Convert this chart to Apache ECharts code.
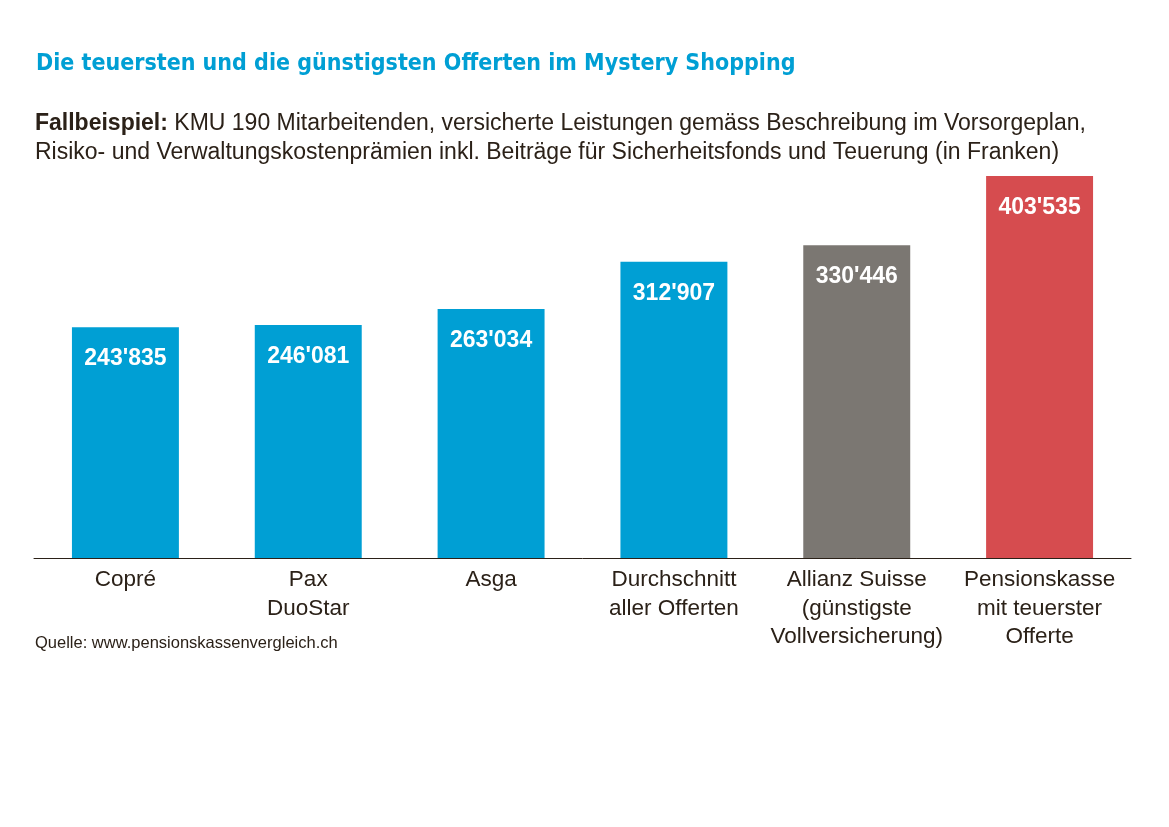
<!DOCTYPE html>
<html lang="de" style="height: 100%">
<head>
  <meta charset="utf-8">
</head>
<body style="height: 100%; margin: 0; background: #fff">
  <div id="container" style="height: 100%"></div>
  <script type="text/javascript" src="https://fastly.jsdelivr.net/npm/echarts@6.0.0/dist/echarts.min.js"></script>
  <script type="text/javascript">
    // Daten
    var categories = ['Copré', 'Pax\nDuoStar', 'Asga', 'Durchschnitt\naller Offerten', 'Allianz Suisse\n(günstigste\nVollversicherung)', 'Pensionskasse\nmit teuerster\nOfferte'];
    var values = [243835, 246081, 263034, 312907, 330446, 403535];
    var barColors = ['#009fd4', '#009fd4', '#009fd4', '#009fd4', '#7b7772', '#d64c4f'];

    var dark = '#2b2118';
    var sans = '"Liberation Sans", Arial, sans-serif';

    function fmt(v) {
      return String(v).replace(/\B(?=(\d{3})+(?!\d))/g, "'");
    }

    var dom = document.getElementById('container');
    var myChart = echarts.init(dom, null, { renderer: 'canvas' });

    var option = {
      backgroundColor: '#fff',
      animation: false,
      title: [
        {
          text: 'Die teuersten und die günstigsten Offerten im Mystery Shopping',
          left: 31,
          top: 48,
          textStyle: {
            fontFamily: '"Liberation Sans Narrow", "DejaVu Sans Condensed", Roboto, sans-serif',
            fontWeight: 'bold',
            fontSize: 23,
            color: '#009fd4'
          }
        },
        {
          text: '{b|Fallbeispiel:} KMU 190 Mitarbeitenden, versicherte Leistungen gemäss Beschreibung im Vorsorgeplan,\nRisiko- und Verwaltungskostenprämien inkl. Beiträge für Sicherheitsfonds und Teuerung (in Franken)',
          left: 30,
          top: 104,
          textStyle: {
            fontFamily: sans,
            fontWeight: 'normal',
            fontSize: 23,
            lineHeight: 29,
            color: dark,
            rich: {
              b: {
                fontFamily: sans,
                fontWeight: 'bold',
                fontSize: 23,
                lineHeight: 29,
                color: dark
              }
            }
          }
        },
        {
          text: 'Quelle: www.pensionskassenvergleich.ch',
          left: 30,
          top: 630,
          textStyle: {
            fontFamily: sans,
            fontWeight: 'normal',
            fontSize: 16.5,
            color: dark
          }
        }
      ],
      grid: {
        left: 34,
        right: 38,
        top: 176,
        bottom: 269
      },
      xAxis: {
        type: 'category',
        data: categories,
        axisLine: { show: true, lineStyle: { color: dark, width: 1 } },
        axisTick: { show: false },
        axisLabel: {
          interval: 0,
          margin: 8,
          fontFamily: sans,
          fontSize: 22.5,
          lineHeight: 28.5,
          color: dark
        }
      },
      yAxis: {
        type: 'value',
        min: 0,
        max: 403535,
        show: false,
        splitLine: { show: false }
      },
      series: [
        {
          type: 'bar',
          barWidth: '58.5%',
          data: values.map(function (v, i) {
            return { value: v, itemStyle: { color: barColors[i] } };
          }),
          label: {
            show: true,
            position: 'insideTop',
            distance: 20,
            formatter: function (p) { return fmt(p.value); },
            fontFamily: sans,
            fontWeight: 'bold',
            fontSize: 23,
            color: '#fff'
          }
        }
      ]
    };

    myChart.setOption(option);
    window.addEventListener('resize', myChart.resize);
  </script>
</body>
</html>
